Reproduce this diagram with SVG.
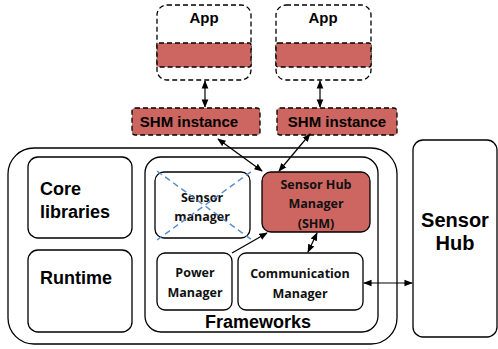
<svg xmlns="http://www.w3.org/2000/svg" width="498" height="349" viewBox="0 0 498 349">
<defs>
<marker id="ah" viewBox="0 0 10 10" refX="9" refY="5" markerWidth="7" markerHeight="7" orient="auto-start-reverse">
<path d="M0,1 L10,5 L0,9 z" fill="#000"/>
</marker>
<style>
.box{fill:#fff;stroke:#000;stroke-width:1.3}
.dash{fill:#fff;stroke:#000;stroke-width:1.3;stroke-dasharray:5 3}
.red{fill:#CD6661;stroke:#000;stroke-width:1.3}
.reddash{fill:#CD6661;stroke:#000;stroke-width:1.3;stroke-dasharray:5 3}
.t{font-family:"Liberation Sans",Arial,sans-serif;font-weight:bold;fill:#000;text-anchor:middle}
.l{text-anchor:start}
.s{font-family:"Open Sans","Liberation Sans",sans-serif;font-weight:bold;fill:#111;text-anchor:middle;font-size:12.5px}
.c{fill:none;stroke:#000;stroke-width:1.2}
.x{fill:none;stroke:#5B8DC8;stroke-width:1.5;stroke-dasharray:6 4}
</style>
</defs>
<g id="app1">
<rect class="dash" x="157" y="5" width="94" height="75" rx="10"/>
<rect class="reddash" x="157" y="43" width="94" height="24" rx="2"/>
<text class="t" x="204" y="23" font-size="15">App</text>
</g>
<g id="app2">
<rect class="dash" x="276" y="5" width="95" height="75" rx="10"/>
<rect class="reddash" x="276" y="43" width="95" height="24" rx="2"/>
<text class="t" x="323" y="23" font-size="15">App</text>
</g>
<g id="shm-instance-1">
<rect class="reddash" x="132" y="108" width="128" height="27" rx="3"/>
<text class="t" x="189" y="127" font-size="15">SHM instance</text>
</g>
<g id="shm-instance-2">
<rect class="reddash" x="277" y="108" width="120" height="27" rx="3"/>
<text class="t" x="337" y="127" font-size="15">SHM instance</text>
</g>
<g id="os">
<rect class="box" x="8" y="148" width="389" height="196" rx="26"/>
</g>
<g id="core-libraries">
<rect class="box" x="28" y="157" width="104" height="81" rx="10"/>
<text class="t l" x="40" y="195" font-size="18">Core</text>
<text class="t l" x="40" y="218" font-size="18">libraries</text>
</g>
<g id="runtime">
<rect class="box" x="28" y="250" width="104" height="82" rx="10"/>
<text class="t l" x="40" y="284" font-size="18">Runtime</text>
</g>
<g id="frameworks">
<rect class="box" x="145" y="157" width="233" height="175" rx="16"/>
<text class="t" x="258" y="328" font-size="18">Frameworks</text>
</g>
<g id="sensor-manager">
<rect class="box" x="155" y="172" width="95" height="66" rx="9"/>
<text class="s" x="202" y="202">Sensor</text>
<text class="s" x="202" y="221">manager</text>
<line class="x" x1="157" y1="171" x2="252" y2="240"/>
<line class="x" x1="157" y1="240" x2="252" y2="171"/>
</g>
<g id="shm">
<rect class="red" x="262" y="172" width="108" height="60" rx="9"/>
<text class="s" x="316" y="189">Sensor Hub</text>
<text class="s" x="316" y="208">Manager</text>
<text class="s" x="316" y="228">(SHM)</text>
</g>
<g id="power-manager">
<rect class="box" x="157" y="253" width="75" height="57" rx="8"/>
<text class="s" x="195" y="277">Power</text>
<text class="s" x="195" y="297">Manager</text>
</g>
<g id="communication-manager">
<rect class="box" x="238" y="253" width="125" height="57" rx="8"/>
<text class="s" x="300" y="278">Communication</text>
<text class="s" x="300" y="298">Manager</text>
</g>
<g id="sensor-hub">
<rect class="box" x="413" y="140" width="84" height="197" rx="10"/>
<text class="t" x="455" y="227" font-size="20">Sensor</text>
<text class="t" x="455" y="250" font-size="20">Hub</text>
</g>
<g id="connectors">
<line class="c" x1="205" y1="81" x2="205" y2="107" marker-start="url(#ah)" marker-end="url(#ah)"/>
<line class="c" x1="320" y1="81" x2="320" y2="107" marker-start="url(#ah)" marker-end="url(#ah)"/>
<line class="c" x1="218" y1="139" x2="262" y2="171" marker-start="url(#ah)" marker-end="url(#ah)"/>
<line class="c" x1="310" y1="134" x2="279" y2="171" marker-start="url(#ah)" marker-end="url(#ah)"/>
<line class="c" x1="232" y1="253" x2="267" y2="233" marker-end="url(#ah)"/>
<line class="c" x1="317" y1="233" x2="308" y2="252" marker-start="url(#ah)" marker-end="url(#ah)"/>
<line class="c" x1="364" y1="283" x2="412" y2="283" marker-start="url(#ah)" marker-end="url(#ah)"/>
</g>
</svg>
